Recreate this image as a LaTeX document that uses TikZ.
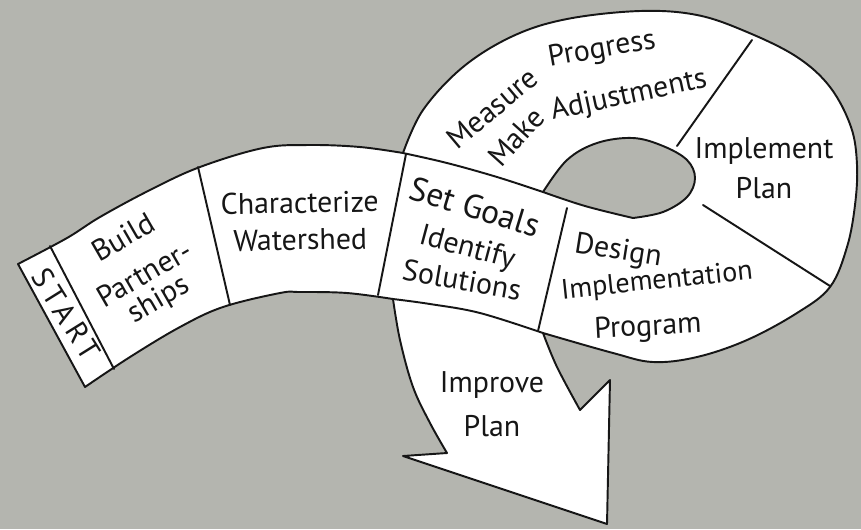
\documentclass[tikz,border=0pt]{standalone}
\usepackage{fontspec}
\newfontfamily\handfont{PT Sans}
\newfontfamily\startfont[LetterSpace=18]{PT Sans}
\definecolor{paperGray}{HTML}{B4B5AF}
\definecolor{inkColor}{HTML}{161616}

\begin{document}
\begin{tikzpicture}[x=0.02cm, y=-0.02cm, line join=round, line cap=round,
	ink/.style={draw=inkColor, line width=1.1pt},
	handtext/.style={font=\handfont\fontsize{17}{21}\selectfont, text=inkColor, inner sep=0pt, align=center}]
		
		% --- 1. Paper ---
		\fill[paperGray] (0,0) rectangle (861,529);
		\useasboundingbox (0,0) rectangle (861,529);
		
		% --- 2. Outline of ribbon, loop and arrow ---
		\def\bandPath{
			plot[smooth, tension=0.6] coordinates {(18,264) (67,238) (100,217) (150,190) (200,167) (263,148) (310,145) (360,147) (403,153)}
			-- plot[smooth, tension=0.6] coordinates {(403,153) (423,110) (463,67) (513,36) (567,19) (640,11) (697,15) (747,32) (797,57) (830,87) (851,127) (857,165) (855,205) (847,247) (830,287) (797,313) (747,340) (697,357) (653,362) (613,353) (543,333)}
			-- plot[smooth, tension=0.6] coordinates {(543,333) (557,367) (580,410)}
			-- (610,380) -- (607,524) -- (403,456) -- (447,453)
			-- plot[smooth, tension=0.6] coordinates {(447,453) (430,423) (413,387) (400,340) (393,299)}
			-- plot[smooth, tension=0.6] coordinates {(393,299) (347,293) (300,292) (280,293) (223,307) (180,327) (130,357) (85,387)}
			-- cycle
		}
		% the gap inside the loop
		\def\holePath{
			plot[smooth, tension=0.6] coordinates {(543,192) (567,160) (597,143) (633,138) (663,146) (687,160) (695,178) (687,197) (663,212) (633,218)}
			-- plot[smooth, tension=0.6] coordinates {(633,218) (585,206) (543,192)}
			-- cycle
		}
		
		\fill[white, even odd rule] \bandPath \holePath;
		\draw[ink] \bandPath;
		\draw[ink] \holePath;
		
		% --- 3. Ribbon edges where it crosses the loop ---
		\draw[ink] plot[smooth, tension=0.6] coordinates {(403,153) (447,163) (497,177) (543,192)};
		\draw[ink] plot[smooth, tension=0.6] coordinates {(393,299) (430,304) (480,313) (543,333)};
		
		% --- 4. Dividers between the steps ---
		\foreach \ax/\ay/\bx/\by in {
			50/246/114/369,   % START
			198/167/230/305,  % partnerships | watershed
			406/154/378/295,  % watershed | goals
			567/208/538/331,  % goals | design
			703/205/830/286,  % design | implement
			752/40/677/146    % implement | measure
		} {
			\draw[ink] (\ax,\ay) -- (\bx,\by);
		}
		
		% --- 5. Step labels ---
		\node[handtext, rotate=-58] (start) at (66,314) {\startfont START};
		
		\node[handtext, rotate=30] (build) at (142,270) {Build\\[3pt]Partner-\\[-5pt]ships};
		
		\node[handtext, rotate=1] (characterize) at (300,221) {Characterize\\Watershed};
		
		\node[handtext, rotate=-17, font=\handfont\fontsize{19}{21}\selectfont] (setgoals) at (475,207) {Set Goals};
		\node[handtext, rotate=-15] (identify) at (467,249) {Identify};
		\node[handtext, rotate=-10] (solutions) at (462,280) {Solutions};
		
		\node[handtext, rotate=-9] (design) at (618,252) {Design};
		\node[handtext, rotate=6, font=\handfont\fontsize{16}{20}\selectfont] (implementation) at (657,282) {Implementation};
		\node[handtext, rotate=3] (program) at (648,328) {Program};
		
		\node[handtext] (implement) at (764,168) {Implement\\[2pt]Plan};
		
		\node[handtext, rotate=40] (measure) at (492,108) {Measure};
		\node[handtext, rotate=10] (progress) at (602,50) {Progress};
		\node[handtext, rotate=48] (make) at (516,137) {Make};
		\node[handtext, rotate=12] (adjust) at (629,96) {Adjustments};
		
		\node[handtext] (improve) at (492,404) {Improve\\[4pt]Plan};
		
	\end{tikzpicture}
\end{document}
